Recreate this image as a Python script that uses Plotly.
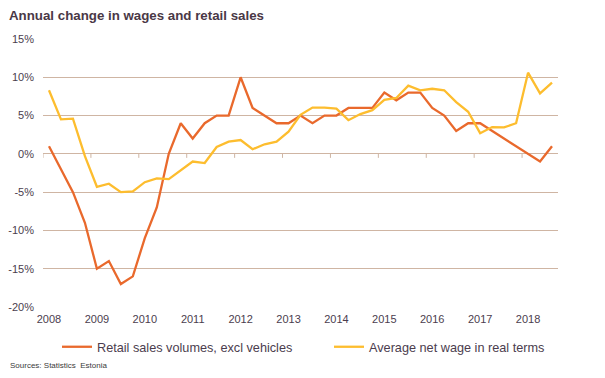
import plotly.graph_objects as go

years = list(range(2008, 2019))
quarters = [f"{y}Q{q}" for y in years for q in range(1, 5)][:43]

retail_sales = [1, -2, -5, -9, -15, -14, -17, -16, -11, -7, 0, 4, 2, 4, 5, 5,
                10, 6, 5, 4, 4, 5, 4, 5, 5, 6, 6, 6, 8, 7, 8, 8, 6, 5, 3, 4,
                4, 3, 2, 1, 0, -1, 1]
net_wage = [8.3, 4.5, 4.6, -0.3, -4.3, -3.9, -5.0, -4.9, -3.7, -3.2, -3.3, -2.2,
            -1.0, -1.2, 0.9, 1.6, 1.8, 0.6, 1.25, 1.6, 2.9, 5.1, 6.05, 6.05,
            5.9, 4.4, 5.2, 5.7, 7.05, 7.3, 8.9, 8.3, 8.5, 8.3, 6.75, 5.5,
            2.7, 3.5, 3.45, 4.0, 10.6, 7.9, 9.3]
y_ticks = [-20, -15, -10, -5, 0, 5, 10, 15]
y_tick_labels = [f"{v}%" for v in y_ticks]

ORANGE = "#E9692C"
YELLOW = "#FDBD2E"
GRID = "#CFB5A3"
TXT = "#4B3D4E"
FONT = "Liberation Sans"
W, H = 605, 378
# the page body adds an 8px offset; margins compensate for it
ML, MR, MT, MB = 34.7, 55.3, 30.8, 78.7

idx = list(range(len(quarters)))
year_pos = [quarters.index(f"{y}Q1") for y in years]
tick_bounds = [p - 0.5 for p in year_pos]

fig = go.Figure()
fig.add_trace(go.Scatter(x=idx, y=retail_sales, mode="lines",
                         name="Retail sales volumes, excl vehicles",
                         line=dict(color=ORANGE, width=2.3), legend="legend"))
fig.add_trace(go.Scatter(x=idx, y=net_wage, mode="lines",
                         name="Average net wage in real terms",
                         line=dict(color=YELLOW, width=2.3), legend="legend2"))

xr = [-0.5, len(quarters) - 0.5]
yr = [-20, 15]

leg_common = dict(orientation="h", xref="container", yref="container",
                  yanchor="middle", y=1 - 339 / H, xanchor="left",
                  font=dict(family=FONT, size=12.7, color=TXT),
                  bgcolor="rgba(0,0,0,0)")

fig.update_layout(
    width=W, height=H,
    margin=dict(l=ML, r=MR, t=MT, b=MB, autoexpand=False),
    paper_bgcolor="white", plot_bgcolor="white",
    font=dict(family=FONT, size=11, color=TXT),
    title=dict(text="<b>Annual change in wages and retail sales</b>",
               x=1 / W, xref="container", xanchor="left",
               y=1 - 7.5 / H, yref="container", yanchor="middle",
               automargin=False,
               font=dict(family=FONT, size=13.3, color="#4A3846")),
    xaxis=dict(range=xr, tickmode="array", tickvals=year_pos,
               ticktext=[str(y) for y in years], showgrid=False,
               zeroline=False, showline=False, ticks="", automargin=False,
               tickfont=dict(size=11, color=TXT), ticklabelstandoff=4),
    yaxis=dict(range=yr, tickmode="array", tickvals=y_ticks,
               ticktext=y_tick_labels, showgrid=True, gridcolor=GRID,
               gridwidth=1, zeroline=False, showline=False, ticks="",
               automargin=False,
               tickfont=dict(size=11, color=TXT), ticklabelstandoff=8),
    legend=dict(x=49 / W, **leg_common),
    legend2=dict(x=321 / W, **leg_common),
    showlegend=True,
)

# small category-boundary tick marks hanging below the zero line
for tb in tick_bounds:
    fig.add_shape(type="line", xref="x", yref="y", x0=tb, x1=tb,
                  ysizemode="pixel", yanchor=0, y0=0, y1=-4,
                  line=dict(color=GRID, width=1), layer="below")

fig.add_annotation(text="Sources: Statistics  Estonia",
                   x=(0 - ML) / (W - ML - MR), xref="paper",
                   y=(H - MB - 358) / (H - MT - MB), yref="paper",
                   xanchor="left", yanchor="middle", showarrow=False,
                   font=dict(family=FONT, size=8, color="#3A3A3A"))

fig.write_html("out.html")
